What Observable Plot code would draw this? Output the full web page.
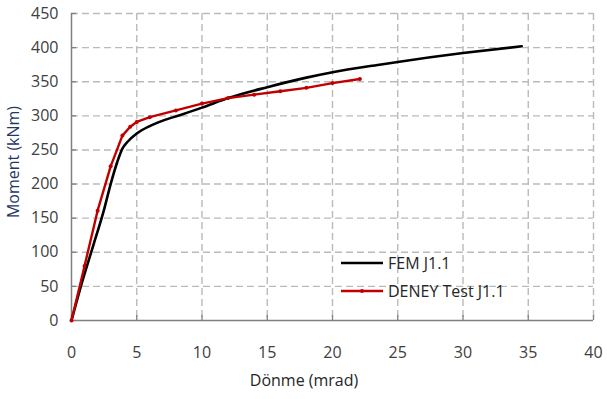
<!DOCTYPE html>
<html><head><meta charset="utf-8">
<script src="https://cdn.jsdelivr.net/npm/d3@7"></script>
<script src="https://cdn.jsdelivr.net/npm/@observablehq/plot@0.6"></script>
<style>
body{margin:0;background:#fff;}
#chart{position:relative;width:607px;height:399px;}
</style>
</head><body><div id="chart"></div>
<script>
// Data
const femRotation = [0, 0.7, 1.7, 2.5, 3.0, 3.5, 3.9, 4.3, 5.0, 6.0, 7.0, 8.3, 10.0, 12.0, 15.0, 18.0, 20.0, 23.6, 25.0, 30.0, 34.5];
const femMoment   = [0, 49, 112, 163, 200, 232, 252, 262, 274, 285, 293, 301, 312, 326, 342, 356, 364, 375, 379, 392, 402];
const testRotation = [0, 1.0, 2.0, 3.0, 3.9, 4.5, 5.0, 6.0, 8.0, 10.0, 12.0, 14.0, 16.0, 18.0, 20.0, 22.1];
const testMoment   = [0, 80, 161, 226, 271, 284, 291, 298, 308, 318, 326, 331, 336, 341, 348, 354];
const seriesNames  = ["FEM J1.1", "DENEY Test J1.1"];
const seriesColors = ["#000000", "#c00000"];
const xTicks = [0, 5, 10, 15, 20, 25, 30, 35, 40];
const yTicks = [0, 50, 100, 150, 200, 250, 300, 350, 400, 450];
const xTitle = "Dönme (mrad)";
const yTitle = "Moment (kNm)";

const fem = femRotation.map((x, i) => ({x, y: femMoment[i]}));
const test = testRotation.map((x, i) => ({x, y: testMoment[i]}));

const W = 607, H = 399, mL = 71, mR = 14, mT = 13, mB = 79;
const font = "'Open Sans', sans-serif";

const plot = Plot.plot({
  width: W, height: H,
  marginLeft: mL, marginRight: mR, marginTop: mT, marginBottom: mB,
  style: {fontFamily: font, fontSize: "16px", color: "#404040", background: "#fff"},
  x: {domain: [0, 40], ticks: xTicks},
  y: {domain: [0, 450], ticks: yTicks},
  marks: [
    Plot.gridX(xTicks.slice(1), {stroke: "#bababa", strokeOpacity: 1, strokeWidth: 1.4, strokeDasharray: "7,4"}),
    Plot.gridY(yTicks.slice(1), {stroke: "#bababa", strokeOpacity: 1, strokeWidth: 1.4, strokeDasharray: "7,4"}),
    Plot.tickX(xTicks, {x: d => d, stroke: "#808080", strokeWidth: 1.3, insetTop: H - mT - mB - 5}),
    Plot.tickY(yTicks, {y: d => d, stroke: "#808080", strokeWidth: 1.3, insetRight: W - mL - mR - 5}),
    Plot.ruleX([0], {stroke: "#808080", strokeWidth: 1.5}),
    Plot.ruleY([0], {stroke: "#808080", strokeWidth: 1.5}),
    Plot.axisX({ticks: xTicks, tickSize: 0, tickPadding: 26, label: null, fill: "#404040", fontSize: 16}),
    Plot.axisY({ticks: yTicks, tickSize: 0, tickPadding: 13, label: null, fill: "#404040", fontSize: 16}),
    Plot.line(fem, {x: "x", y: "y", stroke: seriesColors[0], strokeWidth: 2.6, curve: "monotone-x"}),
    Plot.line(test, {x: "x", y: "y", stroke: seriesColors[1], strokeWidth: 2.4}),
    Plot.dot(test, {x: "x", y: "y", fill: seriesColors[1], r: 2})
  ]
});

const svg = d3.select(plot);
// axis titles
svg.append("text").attr("x", 304).attr("y", 386).attr("text-anchor", "middle")
  .attr("font-family", font).attr("font-size", 16).attr("fill", "#262626").text(xTitle);
svg.append("text").attr("transform", "translate(19,162) rotate(-90)").attr("text-anchor", "middle")
  .attr("font-family", font).attr("font-size", 16).attr("fill", "#1f3864").text(yTitle);

// legend
const lg = svg.append("g").attr("font-family", font).attr("font-size", 16).attr("fill", "#262626")
  .attr("text-anchor", "start");
seriesNames.forEach((name, i) => {
  const y = 263 + i * 28;
  lg.append("line").attr("x1", 341).attr("x2", 383).attr("y1", y).attr("y2", y)
    .attr("stroke", seriesColors[i]).attr("stroke-width", 2.6);
  if (i === 1) lg.append("circle").attr("cx", 362).attr("cy", y).attr("r", 2).attr("fill", seriesColors[i]);
  lg.append("text").attr("x", 388).attr("y", y).attr("dy", "0.35em").attr("text-anchor", "start").text(name);
});

document.getElementById("chart").appendChild(plot);
</script>
</body></html>
